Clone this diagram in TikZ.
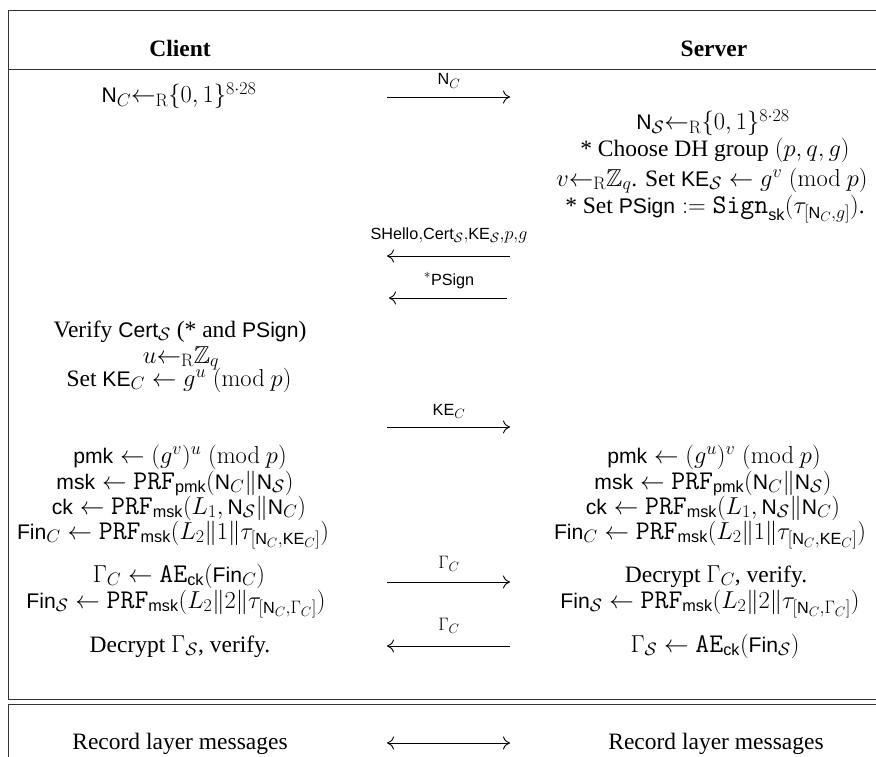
\RequirePackage{fix-cm}
\documentclass[tikz,border=0pt]{standalone}
\usepackage{amsmath,amssymb}
\usepackage[no-math]{fontspec}
\setmainfont{Liberation Serif}
\newfontfamily\hvfam{Liberation Sans}[Scale=0.9]
\newfontfamily\ttfam{Latin Modern Mono}[Scale=1.15]
\DeclareMathSizes{23.5}{24.5}{18}{13.5}
\newcommand\sfm[1]{\text{\hvfam #1}}
\newcommand\ttm[1]{\text{\ttfam #1}}
\newcommand\getsr{{\leftarrow_{\mathrm{R}}}}
\newcommand\modp[1]{\;(\mathrm{mod}\ #1)}
\usetikzlibrary{arrows.meta}
\tikzset{
  frame/.style={line width=1pt, draw=black!80},
  txt/.style={anchor=base, inner sep=0pt},
  lab/.style={anchor=base, inner sep=0pt},
  msg/.style={line width=0.9pt, -{Computer Modern Rightarrow[length=7pt,width=13pt]}},
  msgl/.style={line width=0.9pt, {Computer Modern Rightarrow[length=7pt,width=13pt]}-},
  msgb/.style={line width=0.9pt, {Computer Modern Rightarrow[length=7pt,width=13pt]}-{Computer Modern Rightarrow[length=7pt,width=13pt]}}
}
\begin{document}
\begin{tikzpicture}[x=1pt,y=-1pt,font=\fontsize{23.5}{26}\selectfont]
\clip (0,0) rectangle (876,757);
\fill[white] (0,0) rectangle (876,757);
% frames
\draw[frame] (8,11) rectangle (900,699);
\draw[frame] (8,70) -- (900,70);
\draw[frame] (8,704) rectangle (900,800);
% headers
\node[txt] (client) at (180,57) {\bfseries Client};
\node[txt] (server) at (714,57) {\bfseries Server};
% left column
\node[txt] (l1) at (179,103) {$\sfm{N}_C\getsr\{0,1\}^{8\cdot 28}$};
\node[txt] (l2) at (180,337) {Verify $\sfm{Cert}_{\mathcal{S}}$ (* and $\sfm{PSign}$)};
\node[txt] (l3) at (181,363) {$u\getsr\mathbb{Z}_q$};
\node[txt] (l4) at (179,386) {Set $\sfm{KE}_C \leftarrow g^u\modp{p}$};
\node[txt] (l5) at (180,463) {$\sfm{pmk} \leftarrow (g^v)^u\modp{p}$};
\node[txt] (l6) at (175,489) {$\sfm{msk} \leftarrow \ttm{PRF}_{\sfm{pmk}}(\sfm{N}_C\|\sfm{N}_{\mathcal{S}})$};
\node[txt] (l7) at (179,514) {$\sfm{ck} \leftarrow \ttm{PRF}_{\sfm{msk}}(L_1,\sfm{N}_{\mathcal{S}}\|\sfm{N}_C)$};
\node[txt] (l8) at (173,539) {$\sfm{Fin}_C \leftarrow \ttm{PRF}_{\sfm{msk}}(L_2\|1\|\tau_{[\sfm{N}_C,\sfm{KE}_C]})$};
\node[txt] (l9) at (179,582) {$\Gamma_C \leftarrow \ttm{AE}_{\sfm{ck}}(\sfm{Fin}_C)$};
\node[txt] (l10) at (176,608) {$\sfm{Fin}_{\mathcal{S}} \leftarrow \ttm{PRF}_{\sfm{msk}}(L_2\|2\|\tau_{[\sfm{N}_C,\Gamma_C]})$};
\node[txt] (l11) at (180,652) {Decrypt $\Gamma_{\mathcal{S}}$, verify.};
\node[txt] (l12) at (180,749) {Record layer messages};
% right column
\node[txt] (r1) at (713,130) {$\sfm{N}_{\mathcal{S}}\getsr\{0,1\}^{8\cdot 28}$};
\node[txt] (r2) at (715,157) {* Choose DH group $(p,q,g)$};
\node[txt] (r3) at (712,186) {$v\getsr\mathbb{Z}_q$. Set $\sfm{KE}_{\mathcal{S}} \leftarrow g^v\modp{p}$};
\node[txt] (r4) at (715,213) {* Set $\sfm{PSign} := \ttm{Sign}_{\sfm{sk}}(\tau_{[\sfm{N}_C,g]})$.};
\node[txt] (r5) at (714,463) {$\sfm{pmk} \leftarrow (g^u)^v\modp{p}$};
\node[txt] (r6) at (713,489) {$\sfm{msk} \leftarrow \ttm{PRF}_{\sfm{pmk}}(\sfm{N}_C\|\sfm{N}_{\mathcal{S}})$};
\node[txt] (r7) at (713,514) {$\sfm{ck} \leftarrow \ttm{PRF}_{\sfm{msk}}(L_1,\sfm{N}_{\mathcal{S}}\|\sfm{N}_C)$};
\node[txt] (r8) at (710,539) {$\sfm{Fin}_C \leftarrow \ttm{PRF}_{\sfm{msk}}(L_2\|1\|\tau_{[\sfm{N}_C,\sfm{KE}_C]})$};
\node[txt] (r9) at (716,582) {Decrypt $\Gamma_C$, verify.};
\node[txt] (r10) at (710,608) {$\sfm{Fin}_{\mathcal{S}} \leftarrow \ttm{PRF}_{\sfm{msk}}(L_2\|2\|\tau_{[\sfm{N}_C,\Gamma_C]})$};
\node[txt] (r11) at (715,652) {$\Gamma_{\mathcal{S}} \leftarrow \ttm{AE}_{\sfm{ck}}(\sfm{Fin}_{\mathcal{S}})$};
\node[txt] (r12) at (716,749) {Record layer messages};
% message labels
\node[lab] (m1) at (449,85) {$\scriptstyle \sfm{N}_C$};
\node[lab] (m2) at (449,239) {$\scriptstyle \sfm{SHello},\sfm{Cert}_{\mathcal{S}},\sfm{KE}_{\mathcal{S}},p,g$};
\node[lab] (m3) at (449,285) {$\scriptstyle {}^{*}\sfm{PSign}$};
\node[lab] (m4) at (449,415) {$\scriptstyle \sfm{KE}_C$};
\node[lab] (m5) at (449,568) {$\scriptstyle \Gamma_C$};
\node[lab] (m6) at (449,630) {$\scriptstyle \Gamma_C$};
% arrow ends
\coordinate (a1l) at (387,97);  \coordinate (a1r) at (510,97);
\coordinate (a2l) at (387,256); \coordinate (a2r) at (510,256);
\coordinate (a3l) at (389,298); \coordinate (a3r) at (507,298);
\coordinate (a4l) at (387,427); \coordinate (a4r) at (510,427);
\coordinate (a5l) at (387,582); \coordinate (a5r) at (510,582);
\coordinate (a6l) at (387,646); \coordinate (a6r) at (510,646);
\coordinate (a7l) at (387,743); \coordinate (a7r) at (510,743);
\draw[msg] (a1l) -- (a1r);
\draw[msgl] (a2l) -- (a2r);
\draw[msgl] (a3l) -- (a3r);
\draw[msg] (a4l) -- (a4r);
\draw[msg] (a5l) -- (a5r);
\draw[msgl] (a6l) -- (a6r);
\draw[msgb] (a7l) -- (a7r);
\end{tikzpicture}
\end{document}
